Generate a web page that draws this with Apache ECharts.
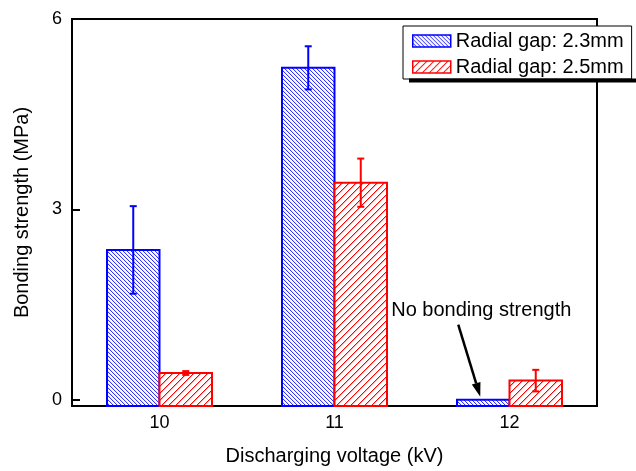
<!DOCTYPE html>
<html>
<head>
<meta charset="utf-8">
<script src="https://cdn.jsdelivr.net/npm/echarts@6/dist/echarts.min.js"></script>
<style>html,body{margin:0;padding:0;background:#fff;}#main{width:636px;height:471px;}</style>
</head>
<body>
<div id="main"></div>
<script>
// ---- data ----
const categories = ['10', '11', '12'];
const gap23 = [2.36, 5.23, 0];        // Radial gap 2.3 mm (MPa)
const gap23Err = [0.69, 0.34, 0];
const gap25 = [0.42, 3.42, 0.30];     // Radial gap 2.5 mm (MPa)
const gap25Err = [0.03, 0.38, 0.17];
const yTickValues = [0, 3, 6];
const yMin = -0.1, yMax = 6;
const seriesNames = ['Radial gap: 2.3mm', 'Radial gap: 2.5mm'];
const annotationText = 'No bonding strength';

const FONT = 'Liberation Sans, Arial, Helvetica, sans-serif';

function hatch(color, s, dir, main, soft) {
  const c = document.createElement('canvas');
  c.width = s; c.height = s;
  const ctx = c.getContext('2d');
  ctx.fillStyle = '#fff'; ctx.fillRect(0, 0, s, s);
  ctx.fillStyle = color;
  for (let i = 0; i < s; i++) {
    const x = dir > 0 ? i : s - 1 - i;
    ctx.globalAlpha = main; ctx.fillRect(x, i, 1, 1);
    if (soft > 0) { ctx.globalAlpha = soft; ctx.fillRect((x + 1) % s, i, 1, 1); }
  }
  return c;
}
const bluePat = { image: hatch('#0000ff', 4, 1, 0.8, 0.1), repeat: 'repeat' };
const redPat = { image: hatch('#ff0000', 7, -1, 1, 0.35), repeat: 'repeat' };

function barRender(offset, pat, stroke) {
  return function (params, api) {
    const i = api.value(0), v = api.value(1);
    const band = api.size([1, 0])[0];
    const w = band * 0.3;
    const top = api.coord([i, v]);
    const bot = api.coord([i, yMin]);
    const cx = top[0] + offset * band;
    return {
      type: 'rect',
      shape: { x: cx - w / 2, y: top[1], width: w, height: bot[1] - top[1] },
      style: { fill: pat, stroke: stroke, lineWidth: 2 }
    };
  };
}
function errRender(offset, stroke) {
  return function (params, api) {
    const i = api.value(0), lo = api.value(1), hi = api.value(2);
    if (hi - lo <= 0) return null;
    const band = api.size([1, 0])[0];
    const a = api.coord([i, hi]), b = api.coord([i, lo]);
    const cx = a[0] + offset * band;
    const cw = 3.5;
    const st = { stroke: stroke, lineWidth: 2 };
    return {
      type: 'group',
      children: [
        { type: 'line', shape: { x1: cx, y1: a[1], x2: cx, y2: b[1] }, style: st },
        { type: 'line', shape: { x1: cx - cw, y1: a[1], x2: cx + cw, y2: a[1] }, style: st },
        { type: 'line', shape: { x1: cx - cw, y1: b[1], x2: cx + cw, y2: b[1] }, style: st }
      ]
    };
  };
}

const chart = echarts.init(document.getElementById('main'), null, { renderer: 'canvas' });
const option = {
  animation: false,
  backgroundColor: '#fff',
  textStyle: { fontFamily: FONT, color: '#000' },
  grid: { left: 72, right: 39, top: 19, bottom: 63, show: true, borderColor: '#000', borderWidth: 2, backgroundColor: 'transparent' },
  xAxis: {
    type: 'category', data: categories,
    name: 'Discharging voltage (kV)', nameLocation: 'middle', nameGap: 40,
    nameTextStyle: { fontSize: 20, color: '#000', fontFamily: FONT },
    axisLine: { onZero: false, lineStyle: { color: '#000', width: 2 } },
    axisTick: { inside: true, length: 4, lineStyle: { color: '#000', width: 2 } },
    axisLabel: { fontSize: 18, color: '#000', margin: 8, fontFamily: FONT },
    splitLine: { show: false }
  },
  yAxis: {
    type: 'value', min: yMin, max: yMax,
    name: 'Bonding strength (MPa)', nameLocation: 'middle', nameGap: 40,
    nameTextStyle: { fontSize: 20, color: '#000', fontFamily: FONT },
    axisLine: { show: true, onZero: false, lineStyle: { color: '#000', width: 2 } },
    axisTick: { show: true, inside: true, length: 8, customValues: yTickValues, lineStyle: { color: '#000', width: 2 } },
    axisLabel: { fontSize: 18, color: '#000', margin: 10, customValues: yTickValues, fontFamily: FONT },
    splitLine: { show: false }
  },
  legend: {
    orient: 'vertical', left: 403, top: 26,
    padding: [5, 8, 2, 9], itemGap: 6, itemWidth: 38, itemHeight: 12,
    backgroundColor: '#fff', borderColor: '#000', borderWidth: 1,
    textStyle: { fontSize: 20, color: '#000', fontFamily: FONT },
    data: [
      { name: seriesNames[0], icon: 'rect', itemStyle: { color: bluePat, borderColor: '#0000ff', borderWidth: 1.5 } },
      { name: seriesNames[1], icon: 'rect', itemStyle: { color: redPat, borderColor: '#ff0000', borderWidth: 1.5 } }
    ]
  },
  series: [
    { name: seriesNames[0], type: 'custom', renderItem: barRender(-0.15, bluePat, '#0000ff'),
      itemStyle: { color: bluePat, borderColor: '#0000ff' },
      encode: { x: 0, y: 1 }, data: categories.map((c, i) => [i, gap23[i]]) },
    { name: seriesNames[1], type: 'custom', renderItem: barRender(0.15, redPat, '#ff0000'),
      itemStyle: { color: redPat, borderColor: '#ff0000' },
      encode: { x: 0, y: 1 }, data: categories.map((c, i) => [i, gap25[i]]) },
    { name: 'err23', type: 'custom', renderItem: errRender(-0.15, '#0000ff'), z: 5,
      encode: { x: 0, y: [1, 2] }, data: categories.map((c, i) => [i, gap23[i] - gap23Err[i], gap23[i] + gap23Err[i]]) },
    { name: 'err25', type: 'custom', renderItem: errRender(0.15, '#ff0000'), z: 5,
      encode: { x: 0, y: [1, 2] }, data: categories.map((c, i) => [i, gap25[i] - gap25Err[i], gap25[i] + gap25Err[i]]) }
  ]
};
chart.setOption(option);

// annotation anchored to the blue bar at 12 kV
const tip = chart.convertToPixel({ xAxisIndex: 0, yAxisIndex: 0 }, [2, gap23[2]]);
const band = 175;
const tipX = tip[0] - 0.15 * band - 3, tipY = tip[1] - 3;
const startX = tipX - 22, startY = tipY - 72;
const ang = Math.atan2(tipY - startY, tipX - startX);
const hl = 14, hw = 4.5;
const bx = tipX - hl * Math.cos(ang), by = tipY - hl * Math.sin(ang);
const px = -Math.sin(ang), py = Math.cos(ang);
chart.setOption({
  graphic: [
    { type: 'rect', z: 100, shape: { x: 409, y: 78.5, width: 227, height: 4 }, style: { fill: '#000' } },
    { type: 'line', z: 100, shape: { x1: startX, y1: startY, x2: bx, y2: by }, style: { stroke: '#000', lineWidth: 2.5 } },
    { type: 'polygon', z: 100, shape: { points: [[tipX, tipY], [bx + px * hw, by + py * hw], [bx - px * hw, by - py * hw]] }, style: { fill: '#000' } },
    { type: 'text', z: 100, x: startX + 23, y: startY - 14, style: { text: annotationText, font: '20px ' + FONT, fill: '#000', align: 'center', verticalAlign: 'middle' } }
  ]
});
</script>
</body>
</html>
